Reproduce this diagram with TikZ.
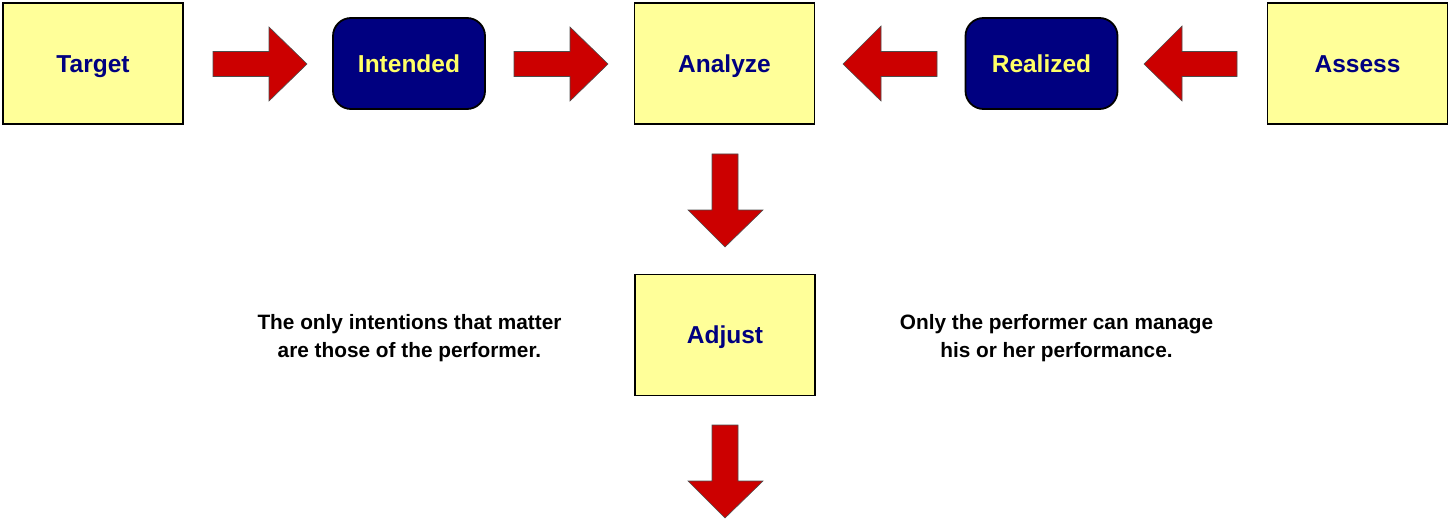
\documentclass[tikz,border=0pt]{standalone}
\usepackage{fontspec}
\setmainfont{Liberation Sans}
\definecolor{boxyellow}{HTML}{FFFF99}
\definecolor{navy}{HTML}{000080}
\definecolor{arrowred}{HTML}{CC0000}
\definecolor{labelyellow}{HTML}{FFFF66}
\begin{document}
\begin{tikzpicture}[x=1pt,y=-1pt,
  yellowbox/.style={draw=black,line width=1.8pt,fill=boxyellow,minimum width=180pt,minimum height=121pt,inner sep=0pt,outer sep=0pt,font=\fontsize{24.5}{28}\selectfont\bfseries,text=navy,text height=17.6pt,text depth=0pt},
  bluebox/.style={draw=black,line width=1.8pt,fill=navy,rounded corners=18pt,minimum width=152pt,minimum height=91pt,inner sep=0pt,outer sep=0pt,font=\fontsize{24.5}{28}\selectfont\bfseries,text=labelyellow,text height=17.6pt,text depth=0pt},
  blockarrow/.style={draw=black!70,line width=0.6pt,fill=arrowred},
  note/.style={align=center,font=\fontsize{20.8}{28}\selectfont\bfseries,text=black}
]
\useasboundingbox (0,0) rectangle (1451,524);
\node[yellowbox] (target) at (93,63.5) {Target};
\node[bluebox] (intended) at (409,63.5) {Intended};
\node[yellowbox] (analyze) at (724.5,63.5) {Analyze};
\node[bluebox] (realized) at (1041.5,63.5) {Realized};
\node[yellowbox] (assess) at (1357.5,63.5) {Assess};
\node[yellowbox] (adjust) at (725,335) {Adjust};
\node[note] (leftnote) at (409.5,338) {The only intentions that matter\\are those of the performer.};
\node[note] (rightnote) at (1056.5,338) {Only the performer can manage\\his or her performance.};
% right-pointing arrows
\draw[blockarrow] (213,51.5) -- (269,51.5) -- (269,27) -- (307,64) -- (269,101) -- (269,76.5) -- (213,76.5) -- cycle;
\draw[blockarrow] (514,51.5) -- (570,51.5) -- (570,27) -- (608,64) -- (570,101) -- (570,76.5) -- (514,76.5) -- cycle;
% left-pointing arrows
\draw[blockarrow] (937,51.5) -- (881,51.5) -- (881,26) -- (843,64) -- (881,101) -- (881,76.5) -- (937,76.5) -- cycle;
\draw[blockarrow] (1237,51.5) -- (1182,51.5) -- (1182,26) -- (1144,64) -- (1182,101) -- (1182,76.5) -- (1237,76.5) -- cycle;
% down arrows
\draw[blockarrow] (712,154) -- (738,154) -- (738,210) -- (763,210) -- (725,247) -- (688,210) -- (712,210) -- cycle;
\draw[blockarrow] (712,425) -- (738,425) -- (738,481) -- (763,481) -- (725,518) -- (688,481) -- (712,481) -- cycle;
\end{tikzpicture}
\end{document}
